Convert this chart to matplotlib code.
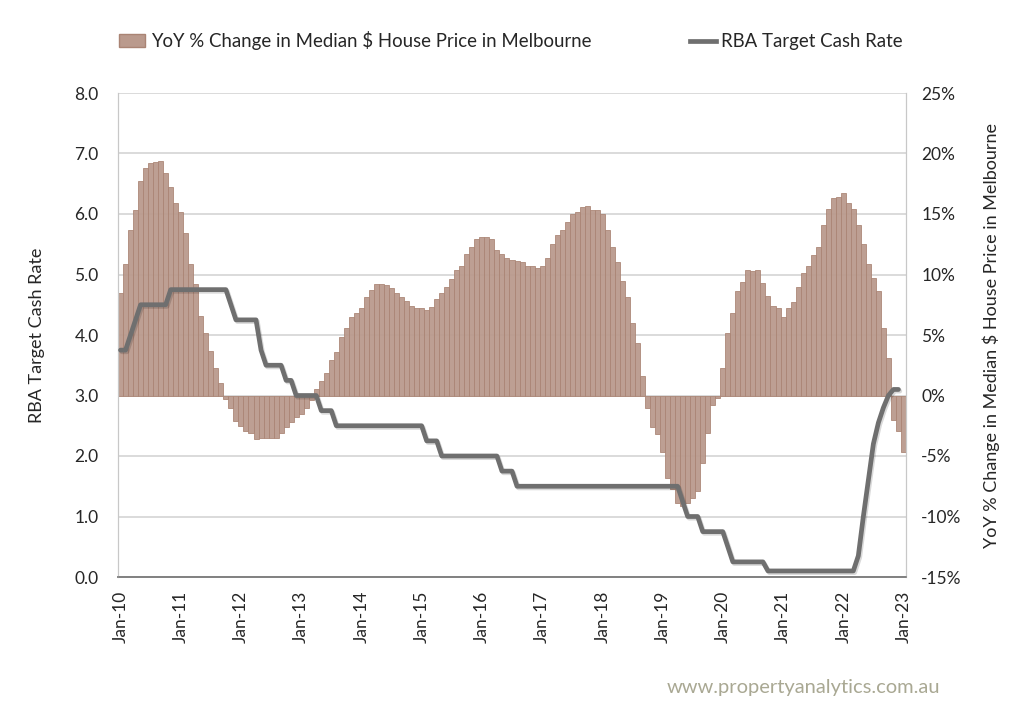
import matplotlib
matplotlib.use("Agg")
import matplotlib.pyplot as plt
import matplotlib.patheffects as pe
from matplotlib.patches import Patch
from matplotlib.lines import Line2D
import numpy as np
import pandas as pd

# --- data: monthly, Jan-10 .. Jan-23 ---
months = pd.date_range("2010-01-01", periods=157, freq="MS")

yoy_pct = [
    8.5, 10.9, 13.7, 15.3, 17.7, 18.8, 19.2, 19.3, 19.4, 18.4, 17.2, 15.9,     # 2010
    15.2, 13.4, 10.9, 9.2, 6.6, 5.2, 3.7, 2.3, 1.0, -0.3, -1.0, -2.1,         # 2011
    -2.5, -2.9, -3.1, -3.6, -3.5, -3.5, -3.5, -3.5, -3.1, -2.6, -2.2, -1.8,   # 2012
    -1.5, -1.0, -0.4, 0.5, 1.2, 1.9, 2.9, 3.6, 4.8, 5.6, 6.5, 6.8,            # 2013
    7.2, 8.1, 8.7, 9.2, 9.2, 9.15, 8.9, 8.5, 8.1, 7.8, 7.4, 7.2,              # 2014
    7.2, 7.1, 7.3, 8.0, 8.5, 9.0, 9.6, 10.4, 10.7, 11.7, 12.3, 12.9,          # 2015
    13.1, 13.1, 12.9, 12.0, 11.7, 11.4, 11.2, 11.1, 11.0, 10.7, 10.7, 10.5,   # 2016
    10.7, 11.4, 12.5, 13.3, 13.7, 14.3, 15.0, 15.2, 15.6, 15.7, 15.3, 15.3,   # 2017
    15.0, 13.7, 12.3, 11.0, 9.5, 8.1, 6.0, 4.35, 1.6, -1.0, -2.6, -3.2,       # 2018
    -4.7, -6.8, -7.7, -8.9, -9.1, -8.9, -8.5, -7.9, -5.6, -3.1, -0.8, -0.2,   # 2019
    2.3, 5.2, 6.8, 8.6, 9.4, 10.4, 10.3, 10.4, 9.3, 8.2, 7.4, 7.2,            # 2020
    6.5, 7.2, 7.7, 9.0, 10.1, 10.7, 11.6, 12.3, 14.1, 15.4, 16.3, 16.4,       # 2021
    16.7, 15.9, 15.4, 14.1, 12.5, 10.9, 9.7, 8.6, 5.6, 3.1, -2.0, -2.9,       # 2022
    -4.7,                                                                      # Jan-23
]

cash_rate = [
    3.75, 3.75, 4.0, 4.25, 4.5, 4.5, 4.5, 4.5, 4.5, 4.5, 4.75, 4.75,          # 2010
    4.75, 4.75, 4.75, 4.75, 4.75, 4.75, 4.75, 4.75, 4.75, 4.75, 4.5, 4.25,    # 2011
    4.25, 4.25, 4.25, 4.25, 3.75, 3.5, 3.5, 3.5, 3.5, 3.25, 3.25, 3.0,        # 2012
    3.0, 3.0, 3.0, 3.0, 2.75, 2.75, 2.75, 2.5, 2.5, 2.5, 2.5, 2.5,            # 2013
    2.5, 2.5, 2.5, 2.5, 2.5, 2.5, 2.5, 2.5, 2.5, 2.5, 2.5, 2.5,              # 2014
    2.5, 2.25, 2.25, 2.25, 2.0, 2.0, 2.0, 2.0, 2.0, 2.0, 2.0, 2.0,            # 2015
    2.0, 2.0, 2.0, 2.0, 1.75, 1.75, 1.75, 1.5, 1.5, 1.5, 1.5, 1.5,            # 2016
    1.5, 1.5, 1.5, 1.5, 1.5, 1.5, 1.5, 1.5, 1.5, 1.5, 1.5, 1.5,              # 2017
    1.5, 1.5, 1.5, 1.5, 1.5, 1.5, 1.5, 1.5, 1.5, 1.5, 1.5, 1.5,              # 2018
    1.5, 1.5, 1.5, 1.5, 1.25, 1.0, 1.0, 1.0, 0.75, 0.75, 0.75, 0.75,         # 2019
    0.75, 0.5, 0.25, 0.25, 0.25, 0.25, 0.25, 0.25, 0.25, 0.1, 0.1, 0.1,      # 2020
    0.1, 0.1, 0.1, 0.1, 0.1, 0.1, 0.1, 0.1, 0.1, 0.1, 0.1, 0.1,              # 2021
    0.1, 0.1, 0.1, 0.35, 1.0, 1.6, 2.2, 2.55, 2.8, 3.0, 3.1, 3.1,            # 2022
]

left_ticks = [0, 1, 2, 3, 4, 5, 6, 7, 8]
right_ticks = [-15, -10, -5, 0, 5, 10, 15, 20, 25]

BAR_FACE = "#ba9a8d"
BAR_EDGE = "#aa8474"
LINE_COL = "#6f6f6f"
TXT = "#262626"

plt.rcParams["font.family"] = ["Lato", "DejaVu Sans"]

fig = plt.figure(figsize=(10.24, 7.13), dpi=100)
fig.patch.set_facecolor("white")
ax = fig.add_axes([118 / 1024, 1 - 577 / 713, 788 / 1024, 484 / 713])
ax2 = ax.twinx()

x = np.arange(len(months))

# bars on the right-hand (percentage) axis, drawn underneath
ax2.bar(x, yoy_pct, width=1.0, color=BAR_FACE, edgecolor=BAR_EDGE,
        linewidth=0.6, alpha=0.95, zorder=2)
ax2.set_ylim(-15, 25)
ax2.set_yticks(right_ticks)
ax2.set_yticklabels([f"{t}%" for t in right_ticks])
ax2.yaxis.grid(True, color="#d4d4d4", linewidth=1.2, zorder=0)
ax2.set_axisbelow(True)

# cash rate line on the left axis, on top
ax.set_zorder(ax2.get_zorder() + 1)
ax.patch.set_visible(False)
ax.plot(x[:len(cash_rate)], cash_rate, color=LINE_COL, linewidth=3.4,
        solid_joinstyle="round", solid_capstyle="round", zorder=3,
        path_effects=[pe.SimpleLineShadow(offset=(1.0, -1.2), shadow_color="k", alpha=0.15),
                      pe.Normal()])
ax.set_ylim(0, 8)
ax.set_yticks(left_ticks)
ax.set_yticklabels([f"{t:.1f}" for t in left_ticks])
ax.set_xlim(-0.5, len(months) - 0.5)

xt = x[::12]
ax.set_xticks(xt)
ax.set_xticklabels([months[i].strftime("%b-%y") for i in xt], rotation=90)

for a in (ax, ax2):
    a.tick_params(length=0, labelsize=12.5, colors=TXT)
    a.spines["top"].set_visible(False)
    a.spines["left"].set_color("#c8c8c8")
    a.spines["right"].set_color("#c8c8c8")
    a.spines["bottom"].set_color("#808080")
    a.spines["bottom"].set_linewidth(1.2)
ax.tick_params(axis="x", pad=10)
ax.tick_params(axis="y", pad=14)
ax2.tick_params(axis="y", pad=11)

ax.set_ylabel("RBA Target Cash Rate", fontsize=13, color=TXT, labelpad=21)
ax2.set_ylabel("YoY % Change in Median $ House Price in Melbourne", fontsize=13,
               color=TXT, labelpad=15)

handles = [Patch(facecolor=BAR_FACE, edgecolor=BAR_EDGE),
           Line2D([0], [0], color=LINE_COL, linewidth=3.4)]
labels = ["YoY % Change in Median $ House Price in Melbourne", "RBA Target Cash Rate"]
fig.legend(handles, labels, loc="center", bbox_to_anchor=(0.499, 0.943), ncol=2,
           frameon=False, fontsize=13.4, columnspacing=5.3, handlelength=1.4,
           handletextpad=0.3, labelcolor=TXT)

fig.text(940 / 1024, 1 - 688 / 713, "www.propertyanalytics.com.au", ha="right",
         va="center", fontsize=14.5, color="#a9a893")

fig.savefig("out.png", dpi=100, facecolor="white")
